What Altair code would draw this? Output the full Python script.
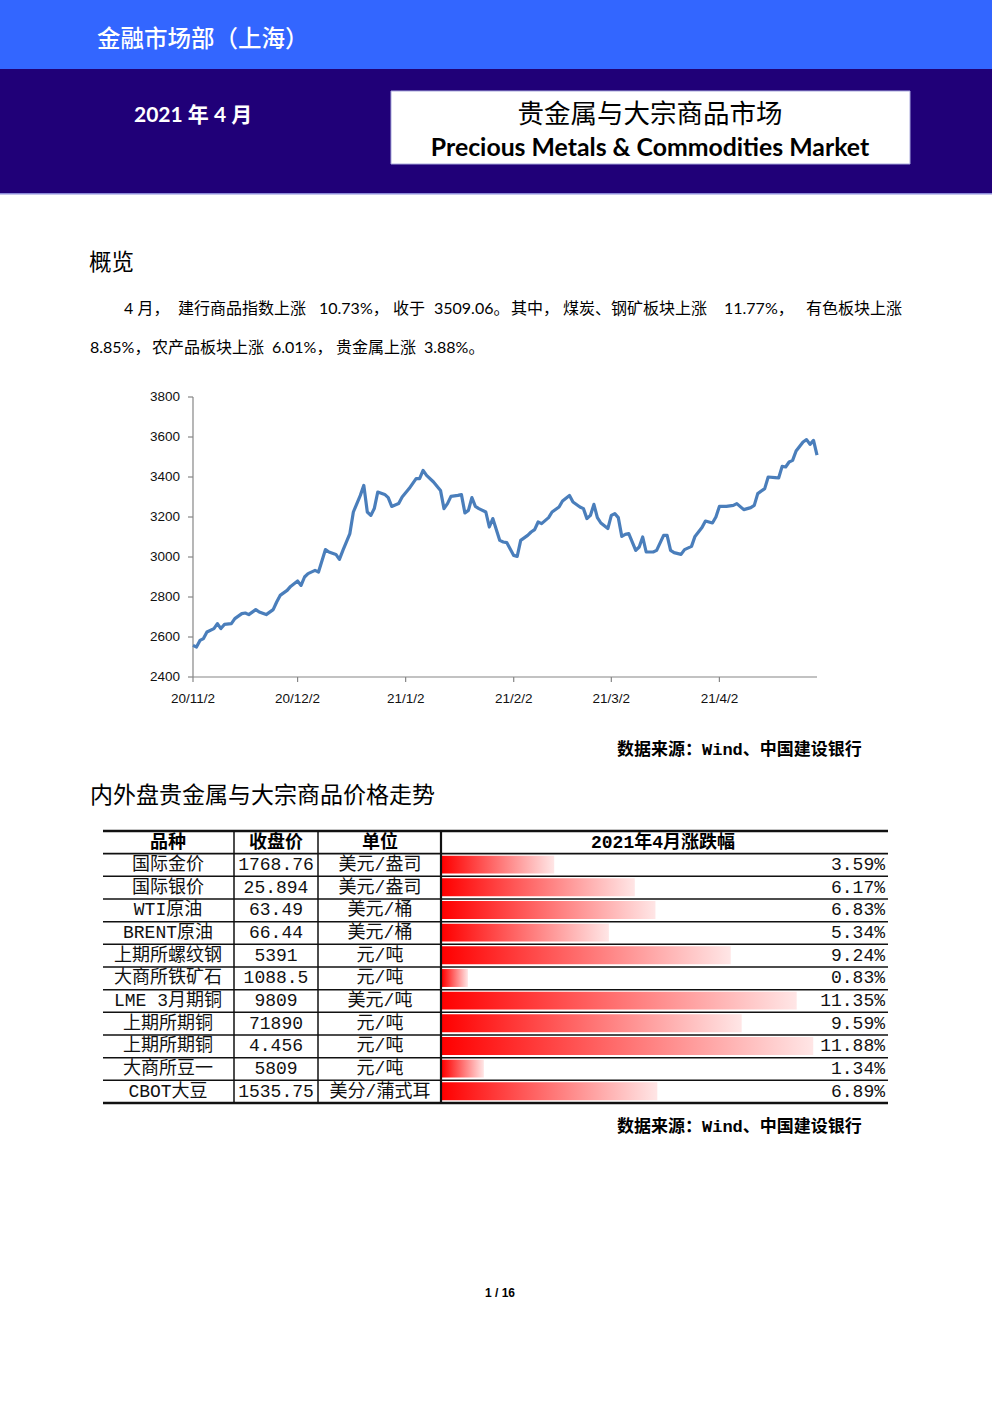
import altair as alt
import pandas as pd

# ---------------- data ----------------
INDEX_DATES = [
    "2020-11-02", "2020-11-03", "2020-11-04", "2020-11-05", "2020-11-06", "2020-11-08", "2020-11-09",
    "2020-11-10", "2020-11-11", "2020-11-13", "2020-11-14", "2020-11-16", "2020-11-17", "2020-11-18",
    "2020-11-20", "2020-11-21", "2020-11-23", "2020-11-25", "2020-11-26", "2020-11-27", "2020-11-29",
    "2020-11-30", "2020-12-02", "2020-12-03", "2020-12-04", "2020-12-05", "2020-12-07", "2020-12-08",
    "2020-12-10", "2020-12-11", "2020-12-13", "2020-12-14", "2020-12-15", "2020-12-17", "2020-12-18",
    "2020-12-20", "2020-12-21", "2020-12-22", "2020-12-23", "2020-12-24", "2020-12-25", "2020-12-27",
    "2020-12-28", "2020-12-29", "2020-12-31", "2021-01-01", "2021-01-03", "2021-01-05", "2021-01-06",
    "2021-01-07", "2021-01-08", "2021-01-10", "2021-01-12", "2021-01-13", "2021-01-14", "2021-01-15",
    "2021-01-17", "2021-01-18", "2021-01-19", "2021-01-20", "2021-01-21", "2021-01-22", "2021-01-23",
    "2021-01-25", "2021-01-26", "2021-01-27", "2021-01-29", "2021-01-30", "2021-01-31", "2021-02-02",
    "2021-02-03", "2021-02-04", "2021-02-06", "2021-02-07", "2021-02-08", "2021-02-09", "2021-02-10",
    "2021-02-12", "2021-02-13", "2021-02-15", "2021-02-16", "2021-02-18", "2021-02-19", "2021-02-21",
    "2021-02-22", "2021-02-23", "2021-02-24", "2021-02-25", "2021-02-26", "2021-02-27", "2021-03-01",
    "2021-03-02", "2021-03-03", "2021-03-04", "2021-03-05", "2021-03-06", "2021-03-07", "2021-03-09",
    "2021-03-10", "2021-03-11", "2021-03-12", "2021-03-14", "2021-03-15", "2021-03-17", "2021-03-18",
    "2021-03-19", "2021-03-20", "2021-03-22", "2021-03-23", "2021-03-25", "2021-03-26", "2021-03-28",
    "2021-03-29", "2021-03-31", "2021-04-01", "2021-04-02", "2021-04-04", "2021-04-06", "2021-04-07",
    "2021-04-09", "2021-04-11", "2021-04-12", "2021-04-13", "2021-04-15", "2021-04-16", "2021-04-18",
    "2021-04-19", "2021-04-20", "2021-04-21", "2021-04-22", "2021-04-23", "2021-04-24", "2021-04-26",
    "2021-04-27", "2021-04-28", "2021-04-29", "2021-04-30",
]
INDEX_VALUES = [
    2558, 2550, 2583, 2592, 2625, 2642, 2667,
    2642, 2663, 2667, 2692, 2717, 2720, 2712,
    2737, 2725, 2712, 2737, 2775, 2808, 2833,
    2853, 2880, 2858, 2900, 2917, 2933, 2925,
    3037, 3025, 3013, 2988, 3033, 3117, 3225,
    3308, 3358, 3225, 3208, 3242, 3325, 3313,
    3297, 3253, 3267, 3300, 3342, 3392, 3392,
    3433, 3408, 3375, 3333, 3242, 3267, 3303,
    3308, 3312, 3220, 3233, 3297, 3253, 3242,
    3225, 3150, 3192, 3083, 3075, 3072, 3008,
    3003, 3083, 3108, 3125, 3137, 3175, 3167,
    3197, 3225, 3250, 3280, 3308, 3275, 3250,
    3242, 3192, 3208, 3263, 3197, 3170, 3142,
    3208, 3217, 3197, 3103, 3113, 3117, 3033,
    3050, 3100, 3025, 3025, 3033, 3108, 3108,
    3033, 3022, 3013, 3037, 3053, 3103, 3147,
    3180, 3170, 3200, 3253, 3253, 3258, 3267,
    3237, 3247, 3258, 3317, 3342, 3400, 3397,
    3395, 3453, 3450, 3475, 3483, 3530, 3575,
    3587, 3563, 3583, 3509,
]
Y_TICKS = [2400, 2600, 2800, 3000, 3200, 3400, 3600, 3800]
X_TICK_DATES = ["2020-11-02", "2020-12-02", "2021-01-02", "2021-02-02", "2021-03-02", "2021-04-02"]
X_TICK_LABELS = ["20/11/2", "20/12/2", "21/1/2", "21/2/2", "21/3/2", "21/4/2"]
X_DOMAIN = ["2020-11-02", "2021-04-30"]

NAMES = ["国际金价", "国际银价", "WTI原油", "BRENT原油", "上期所螺纹钢", "大商所铁矿石",
         "LME 3月期铜", "上期所期铜", "上期所期铜", "大商所豆一", "CBOT大豆"]
PRICES = ["1768.76", "25.894", "63.49", "66.44", "5391", "1088.5",
          "9809", "71890", "4.456", "5809", "1535.75"]
UNITS = ["美元/盎司", "美元/盎司", "美元/桶", "美元/桶", "元/吨", "元/吨",
         "美元/吨", "元/吨", "元/吨", "元/吨", "美分/蒲式耳"]
PCTS = [3.59, 6.17, 6.83, 5.34, 9.24, 0.83, 11.35, 9.59, 11.88, 1.34, 6.89]
TABLE_HEADERS = ["品种", "收盘价", "单位", "2021年4月涨跌幅"]

DEPT = "金融市场部（上海）"
DATE_TEXT = "2021 年 4 月"
TITLE_CN = "贵金属与大宗商品市场"
TITLE_EN = "Precious Metals & Commodities Market"
SEC1 = "概览"
PARA1 = ["4 月，", "建行商品指数上涨", "10.73%，", "收于", "3509.06。", "其中，",
         "煤炭、钢矿板块上涨", "11.77%，", "有色板块上涨"]
PARA2 = ["8.85%，", "农产品板块上涨", "6.01%，", "贵金属上涨", "3.88%。"]
SOURCE = "数据来源：Wind、中国建设银行"
SEC2 = "内外盘贵金属与大宗商品价格走势"
PAGE = "1 / 16"

# ---------------- styles ----------------
CJK = "Noto Sans CJK SC"
LATIN_CJK = "Lato, Noto Sans CJK SC"
MONO_CJK = "Liberation Mono, Noto Sans CJK SC"
AXIS_FONT = "Liberation Sans"
BLUE_TOP = "#3366FF"
NAVY = "#200078"
LINE_BLUE = "#4A7EBB"
GRAY = "#868686"
PARA1_X = [124, 178, 319, 393, 434, 511, 563, 724]
PARA2_X = [90, 152, 272, 336, 424]


def one_row(**kw):
    return pd.DataFrame({k: [v] for k, v in kw.items()})


def text_layer(s, x, y, size, color="#000000", weight="normal", font=CJK, align="left"):
    return alt.Chart(one_row(t=s)).mark_text(
        align=align, baseline="middle", fontSize=size, font=font, fontWeight=weight, color=color
    ).encode(x=alt.value(x), y=alt.value(y), text="t:N")


def rect_layer(x, x2, y, y2, fill, stroke=None):
    kw = dict(fill=fill)
    if stroke:
        kw.update(stroke=stroke, strokeWidth=1)
    else:
        kw.update(strokeWidth=0)
    return alt.Chart(one_row(k=1)).mark_rect(**kw).encode(
        x=alt.value(x), x2=alt.value(x2), y=alt.value(y), y2=alt.value(y2)
    )


layers = []

# ---------------- page header ----------------
layers.append(rect_layer(0, 992, 0, 69, BLUE_TOP))
layers.append(rect_layer(0, 992, 69, 194, NAVY))
layers.append(rect_layer(0, 992, 193, 194.5, "#8C8CD9"))
layers.append(rect_layer(391, 910, 91, 164, "#FFFFFF", stroke="#A8A8DC"))
layers.append(text_layer(DEPT, 97, 40, 23.5, color="#FFFFFF", weight=500))
layers.append(text_layer(DATE_TEXT, 134, 116, 21, color="#FFFFFF", weight="bold", font=LATIN_CJK))
layers.append(text_layer(TITLE_CN, 650, 115, 26.5, align="center"))
layers.append(text_layer(TITLE_EN, 650, 149, 24.8, weight="bold", font=LATIN_CJK, align="center"))

# ---------------- overview text ----------------
layers.append(text_layer(SEC1, 89, 263, 22.5))
for seg, x in zip(PARA1[:-1], PARA1_X):
    layers.append(text_layer(seg, x, 309, 16, font=LATIN_CJK))
layers.append(text_layer(PARA1[-1], 902, 309, 16, font=LATIN_CJK, align="right"))
for seg, x in zip(PARA2, PARA2_X):
    layers.append(text_layer(seg, x, 348, 16, font=LATIN_CJK))

# ---------------- line chart ----------------
xs = alt.Scale(type="utc",
               domain=[alt.DateTime(year=2020, month=11, date=2, utc=True),
                       alt.DateTime(year=2021, month=4, date=30, utc=True)],
               range=[193, 817])
ys = alt.Scale(domain=[Y_TICKS[0], Y_TICKS[-1]], range=[677, 397], nice=False, zero=False)

df_line = pd.DataFrame({"date": INDEX_DATES, "value": INDEX_VALUES})
df_yt = pd.DataFrame({"v": Y_TICKS})
df_xt = pd.DataFrame({"d": X_TICK_DATES, "lab": X_TICK_LABELS})

layers.append(alt.Chart(one_row(lo=Y_TICKS[0], hi=Y_TICKS[-1])).mark_rule(color=GRAY, strokeWidth=1.2).encode(
    x=alt.value(193), y=alt.Y("lo:Q", scale=ys, axis=None), y2="hi:Q"))
layers.append(alt.Chart(one_row(a=X_DOMAIN[0], b=X_DOMAIN[1])).mark_rule(color=GRAY, strokeWidth=1.2).encode(
    y=alt.value(677), x=alt.X("a:T", scale=xs, axis=None), x2="b:T"))
layers.append(alt.Chart(df_yt).mark_rule(color=GRAY, strokeWidth=1.2).encode(
    y=alt.Y("v:Q", scale=ys, axis=None), x=alt.value(188), x2=alt.value(193)))
layers.append(alt.Chart(df_yt).mark_text(align="right", baseline="middle", fontSize=13.5, font=AXIS_FONT,
                                         color="#111111").encode(
    y=alt.Y("v:Q", scale=ys, axis=None), x=alt.value(180), text=alt.Text("v:Q", format="d")))
layers.append(alt.Chart(df_xt).mark_rule(color=GRAY, strokeWidth=1.2).encode(
    x=alt.X("d:T", scale=xs, axis=None), y=alt.value(677), y2=alt.value(682)))
layers.append(alt.Chart(df_xt).mark_text(align="center", baseline="middle", fontSize=13.5, font=AXIS_FONT,
                                         color="#111111").encode(
    x=alt.X("d:T", scale=xs, axis=None), y=alt.value(699), text="lab:N"))
layers.append(alt.Chart(df_line).mark_line(color=LINE_BLUE, strokeWidth=3.2, strokeJoin="round").encode(
    x=alt.X("date:T", scale=xs, axis=None), y=alt.Y("value:Q", scale=ys, axis=None)))

layers.append(text_layer(SOURCE, 617, 750, 17, weight="bold", font=MONO_CJK))
layers.append(text_layer(SEC2, 90, 796, 23))

# ---------------- table ----------------
n = len(NAMES)
ty = alt.Scale(domain=[0, n + 1], range=[831, 1103], nice=False, zero=False)
tx = alt.Scale(domain=[0, 12], range=[442, 817], nice=False, zero=False)

df_tab = pd.DataFrame({"name": NAMES, "price": PRICES, "unit": UNITS, "pct": PCTS})
df_tab["row"] = list(range(n))
base = alt.Chart(df_tab).transform_calculate(
    yc="datum.row + 1.5", y0="datum.row + 1.09", y1="datum.row + 1.88", x0="0",
    lbl="format(datum.pct, '.2f') + '%'")

grad = alt.Gradient(gradient="linear",
                    stops=[alt.GradientStop(offset=0, color="#FF0000"),
                           alt.GradientStop(offset=1, color="#FFE6E6")],
                    x1=0, x2=1, y1=0, y2=0)
layers.append(base.mark_rect(fill=grad, strokeWidth=0).encode(
    x=alt.X("x0:Q", scale=tx, axis=None), x2="pct:Q",
    y=alt.Y("y0:Q", scale=ty, axis=None), y2="y1:Q"))

TAB_FONT = MONO_CJK
for field, x in [("name", 168), ("price", 276), ("unit", 380)]:
    layers.append(base.mark_text(align="center", baseline="middle", fontSize=18, font=TAB_FONT,
                                 color="#111111").encode(
        x=alt.value(x), y=alt.Y("yc:Q", scale=ty, axis=None), text=f"{field}:N"))
layers.append(base.mark_text(align="right", baseline="middle", fontSize=18, font=TAB_FONT,
                             color="#111111").encode(
    x=alt.value(885), y=alt.Y("yc:Q", scale=ty, axis=None), text="lbl:N"))

for h, x in zip(TABLE_HEADERS, [168, 276, 380, 663]):
    layers.append(text_layer(h, x, 843, 18, weight="bold", font=TAB_FONT, align="center"))

# table rules
df_thick = pd.DataFrame({"r": [0, n + 1]})
df_head = pd.DataFrame({"r": [1]})
df_thin = pd.DataFrame({"r": list(range(2, n + 1))})
for d, w in [(df_thick, 2.6), (df_head, 1.8), (df_thin, 1.5)]:
    layers.append(alt.Chart(d).mark_rule(color="#111111", strokeWidth=w).encode(
        y=alt.Y("r:Q", scale=ty, axis=None), x=alt.value(103), x2=alt.value(888)))
for x, w in [(234, 1.5), (318, 1.5), (441, 2.2)]:
    layers.append(alt.Chart(one_row(lo=0, hi=n + 1)).mark_rule(color="#111111", strokeWidth=w).encode(
        x=alt.value(x), y=alt.Y("lo:Q", scale=ty, axis=None), y2="hi:Q"))

layers.append(text_layer(SOURCE, 617, 1127, 17, weight="bold", font=MONO_CJK))
layers.append(text_layer(PAGE, 500, 1293, 12, weight="bold", font="Liberation Sans", align="center"))

chart = alt.layer(*layers).resolve_scale(x="independent", y="independent").properties(
    width=992, height=1403, padding=0, background="#FFFFFF",
    autosize=alt.AutoSizeParams(type="none"),
).configure_view(strokeWidth=0)

chart.save("out.html", embed_options={"renderer": "svg", "actions": False})
